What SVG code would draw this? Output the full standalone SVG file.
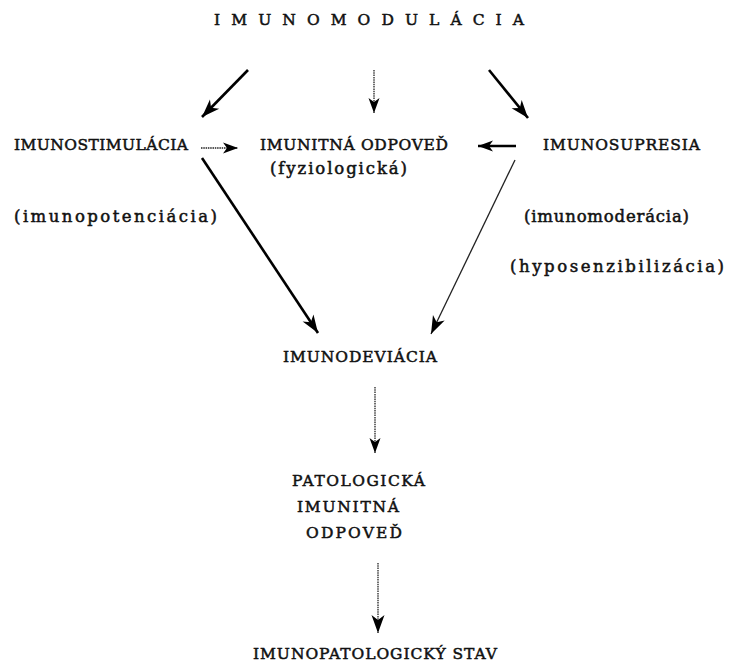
<svg xmlns="http://www.w3.org/2000/svg" width="739" height="663" viewBox="0 0 739 663">
<style>
text{font-family:"DejaVu Serif","Liberation Serif",serif;fill:#111;stroke:#111;stroke-width:0.5;}
.cap{font-size:15.5px;}
.low{font-size:16.5px;}
.thick{stroke:#000;stroke-width:2.6;fill:none;}
.thin{stroke:#222;stroke-width:1.3;fill:none;}
.dot{stroke:#222;stroke-width:1.3;fill:none;stroke-dasharray:1.5 0.8;}
</style>
<defs>
<marker id="ah" markerUnits="userSpaceOnUse" viewBox="-20 -8 22 16" refX="0" refY="0" markerWidth="22" markerHeight="16" orient="auto">
<path d="M0,0 L-18,-6.5 L-13,0 L-18,6.5 Z" fill="#000"/>
</marker>
<marker id="ahs" markerUnits="userSpaceOnUse" viewBox="-20 -8 22 16" refX="0" refY="0" markerWidth="22" markerHeight="16" orient="auto">
<path d="M0,0 L-15,-5.5 L-11,0 L-15,5.5 Z" fill="#000"/>
</marker>
</defs>
<rect width="739" height="663" fill="#fff"/>
<g id="n-imunomodulacia"><text class="cap" x="214" y="25" textLength="310" lengthAdjust="spacing">I M U N O M O D U L Á C I A</text></g>
<g id="n-imunostimulacia"><text class="cap" x="14" y="150" textLength="174" lengthAdjust="spacing">IMUNOSTIMULÁCIA</text>
<text class="low" x="14" y="222" textLength="203" lengthAdjust="spacing">(imunopotenciácia)</text></g>
<g id="n-imunitna-odpoved"><text class="cap" x="260" y="150" textLength="188" lengthAdjust="spacing">IMUNITNÁ ODPOVEĎ</text>
<text class="low" x="270" y="174" textLength="137" lengthAdjust="spacing">(fyziologická)</text></g>
<g id="n-imunosupresia"><text class="cap" x="543" y="150" textLength="157" lengthAdjust="spacing">IMUNOSUPRESIA</text>
<text class="low" x="524" y="222" textLength="165" lengthAdjust="spacing">(imunomoderácia)</text>
<text class="low" x="510" y="272" textLength="214" lengthAdjust="spacing">(hyposenzibilizácia)</text></g>
<g id="n-imunodeviacia"><text class="cap" x="283" y="362" textLength="154" lengthAdjust="spacing">IMUNODEVIÁCIA</text></g>
<g id="n-patologicka"><text class="cap" x="292" y="486" textLength="133" lengthAdjust="spacing">PATOLOGICKÁ</text>
<text class="cap" x="297" y="512" textLength="102" lengthAdjust="spacing">IMUNITNÁ</text>
<text class="cap" x="306" y="538" textLength="96" lengthAdjust="spacing">ODPOVEĎ</text></g>
<g id="n-imunopatologicky"><text class="cap" x="253" y="659" textLength="244" lengthAdjust="spacing">IMUNOPATOLOGICKÝ STAV</text></g>
<g id="connectors">
<line class="thick" x1="248" y1="70" x2="202" y2="117" marker-end="url(#ah)"/>
<line class="dot" x1="374" y1="70" x2="374" y2="113" marker-end="url(#ahs)"/>
<line class="thick" x1="489" y1="70" x2="528" y2="118" marker-end="url(#ah)"/>
<line class="dot" x1="201" y1="148" x2="238" y2="148" marker-end="url(#ahs)"/>
<line class="thick" x1="516" y1="146" x2="478" y2="146" marker-end="url(#ahs)"/>
<line class="thick" x1="202" y1="158" x2="318" y2="333" marker-end="url(#ah)"/>
<line class="thin" x1="515" y1="160" x2="431" y2="334" marker-end="url(#ah)"/>
<line class="dot" x1="375" y1="387" x2="375" y2="453" marker-end="url(#ahs)"/>
<line class="dot" x1="378" y1="563" x2="378" y2="633" marker-end="url(#ah)"/>
</g>
</svg>
